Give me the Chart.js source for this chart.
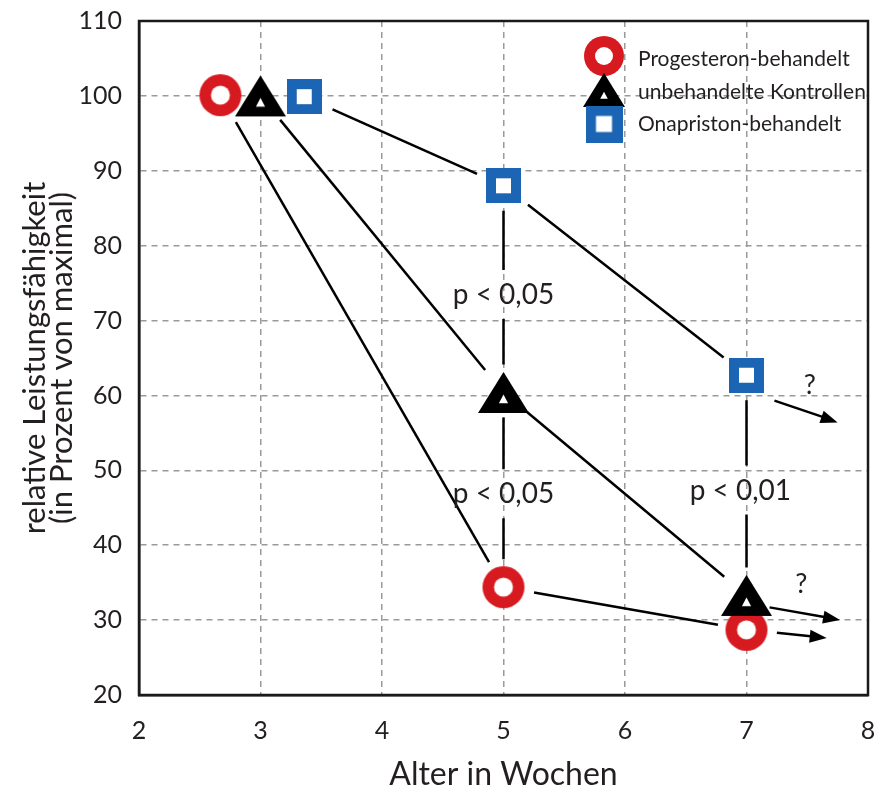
<!DOCTYPE html>
<html>
<head>
<meta charset="utf-8">
<script src="https://cdn.jsdelivr.net/npm/chart.js@4.4.1/dist/chart.umd.min.js"></script>
<style>
  html, body { margin: 0; padding: 0; background: #fff; }
  #wrap { width: 882px; height: 792px; }
</style>
</head>
<body>
<div id="wrap"><canvas id="leistungChart" width="882" height="792"></canvas></div>
<script>
// values (x = Alter in Wochen, y = % of maximum)
const seriesNames = ['Progesteron-behandelt', 'unbehandelte Kontrollen', 'Onapriston-behandelt'];
const progesteronX = [2.67, 5, 7];
const progesteronY = [100.1, 34.4, 28.7];
const kontrolleX = [3, 5, 7];
const kontrolleY = [100, 60.4, 33.3];
const onapristonX = [3.36, 5, 7];
const onapristonY = [99.9, 88, 62.7];

// projected trend after week 7 (same series order)
const trendFromX = [7.25, 7.19, 7.23];
const trendFromY = [28.3, 31.7, 59.3];
const trendToX = [7.66, 7.77, 7.75];
const trendToY = [27.6, 30, 56.4];
const trendMark = ['', '?', '?'];
const trendMarkX = [0, 7.45, 7.52];
const trendMarkY = [0, 34.8, 61.4];

// significance between groups
const pText = ['p < 0,05', 'p < 0,05', 'p < 0,01'];
const pX = [5, 5, 7];
const pUpper = [88, 60.4, 62.7];
const pLower = [60.4, 34.4, 33.3];
const pTextX = [5, 5, 6.95];
const pTextY = [73.4, 46.8, 47.3];

const xTicks = [2, 3, 4, 5, 6, 7, 8];
const yTicks = [20, 30, 40, 50, 60, 70, 80, 90, 100, 110];

const seriesX = [progesteronX, kontrolleX, onapristonX];
const seriesY = [progesteronY, kontrolleY, onapristonY];

const RED = '#d71920';
const BLUE = '#1c64b4';
const INK = '#231f20';
const FONT = 'Lato, "Open Sans", sans-serif';

// marker bitmaps used as point styles
function circleMarker(r, hole) {
  const c = document.createElement('canvas');
  c.width = c.height = Math.ceil(2 * r + 2);
  const g = c.getContext('2d');
  const m = c.width / 2;
  g.fillStyle = RED;
  g.beginPath(); g.arc(m, m, r, 0, Math.PI * 2); g.fill();
  g.fillStyle = '#fff';
  g.beginPath(); g.arc(m, m, hole, 0, Math.PI * 2); g.fill();
  return c;
}

function triangleMarker(w, h) {
  const c = document.createElement('canvas');
  c.width = w + 2; c.height = h + 2;
  const g = c.getContext('2d');
  const m = c.width / 2;
  g.fillStyle = '#000';
  g.beginPath(); g.moveTo(m, 1); g.lineTo(w + 1, h + 1); g.lineTo(1, h + 1); g.closePath(); g.fill();
  const hw = w * 0.09;
  g.fillStyle = '#fff';
  g.beginPath(); g.moveTo(m, 1 + h * 0.55); g.lineTo(m + hw, 1 + h * 0.76); g.lineTo(m - hw, 1 + h * 0.76); g.closePath(); g.fill();
  return c;
}

function squareMarker(s, hole) {
  const c = document.createElement('canvas');
  c.width = c.height = s;
  const g = c.getContext('2d');
  g.fillStyle = BLUE;
  g.fillRect(0, 0, s, s);
  g.fillStyle = '#fff';
  g.fillRect((s - hole) / 2, (s - hole) / 2, hole, hole);
  return c;
}

const markers = [circleMarker(21, 9.5), triangleMarker(51, 41), squareMarker(35, 15)];
const legendMarkers = [circleMarker(20, 9), triangleMarker(42, 34), squareMarker(37, 16)];

function gapLine(g, x1, y1, x2, y2, gapA, gapB) {
  const dx = x2 - x1, dy = y2 - y1;
  const len = Math.hypot(dx, dy);
  const ux = dx / len, uy = dy / len;
  g.beginPath();
  g.moveTo(x1 + ux * gapA, y1 + uy * gapA);
  g.lineTo(x2 - ux * gapB, y2 - uy * gapB);
  g.stroke();
}

function arrowLine(g, x1, y1, x2, y2) {
  const a = Math.atan2(y2 - y1, x2 - x1);
  const L = 17, W = 6.5;
  const bx = x2 - L * Math.cos(a), by = y2 - L * Math.sin(a);
  g.beginPath(); g.moveTo(x1, y1); g.lineTo(bx + 1, by); g.stroke();
  g.beginPath();
  g.moveTo(x2, y2);
  g.lineTo(bx - W * Math.sin(a), by + W * Math.cos(a));
  g.lineTo(bx + W * Math.sin(a), by - W * Math.cos(a));
  g.closePath();
  g.fill();
}

const figureExtras = {
  id: 'figureExtras',
  beforeDatasetsDraw(chart) {
    const g = chart.ctx;
    const { x, y } = chart.scales;
    const px = v => x.getPixelForValue(v);
    const py = v => y.getPixelForValue(v);
    const area = chart.chartArea;

    g.save();
    g.strokeStyle = '#000';
    g.fillStyle = '#000';
    g.lineWidth = 2.5;

    // lines between the weeks, stopping short of the markers
    seriesX.forEach((xs, i) => {
      for (let j = 0; j < xs.length - 1; j++) {
        gapLine(g, px(xs[j]), py(seriesY[i][j]), px(xs[j + 1]), py(seriesY[i][j + 1]), 31, 29);
      }
    });

    // vertical significance lines, broken for the p label
    pX.forEach((v, i) => {
      const xx = px(v), yt = py(pTextY[i]);
      g.beginPath();
      g.moveTo(xx, py(pUpper[i]) + 25); g.lineTo(xx, yt - 25);
      g.moveTo(xx, yt + 24); g.lineTo(xx, py(pLower[i]) - 28);
      g.stroke();
    });

    // trend arrows
    trendFromX.forEach((v, i) => {
      arrowLine(g, px(v), py(trendFromY[i]), px(trendToX[i]), py(trendToY[i]));
    });

    g.fillStyle = INK;
    g.textAlign = 'center';
    g.textBaseline = 'middle';
    g.font = `28px ${FONT}`;
    pText.forEach((t, i) => g.fillText(t, px(pTextX[i]), py(pTextY[i])));
    g.font = `27px ${FONT}`;
    trendMark.forEach((t, i) => { if (t) g.fillText(t, px(trendMarkX[i]), py(trendMarkY[i])); });

    // legend in the upper right corner
    const mx = area.right - 264, tx = area.right - 230;
    const rowY = [area.top + 35, area.top + 69, area.top + 103];
    const textY = [area.top + 38, area.top + 71, area.top + 103];
    legendMarkers.forEach((m, i) => g.drawImage(m, mx - m.width / 2, rowY[i] - m.height / 2));
    g.textAlign = 'left';
    g.font = `21px ${FONT}`;
    seriesNames.forEach((n, i) => g.fillText(n, tx, textY[i]));
    g.restore();
  },
  afterDraw(chart) {
    const g = chart.ctx;
    const a = chart.chartArea;
    g.save();
    g.strokeStyle = '#1a1a1a';
    g.lineWidth = 2.5;
    g.strokeRect(a.left, a.top, a.right - a.left, a.bottom - a.top);
    g.restore();
  }
};

const gridColor = edges => c => (edges.includes(c.tick.value) ? 'rgba(0,0,0,0)' : '#9a9a9a');

new Chart(document.getElementById('leistungChart').getContext('2d'), {
  type: 'scatter',
  data: {
    datasets: seriesNames.map((name, i) => ({
      label: name,
      data: seriesX[i].map((v, j) => ({ x: v, y: seriesY[i][j] })),
      pointStyle: markers[i],
      pointRadius: 20,
      pointHoverRadius: 20,
      showLine: false,
      order: [2, 0, 1][i],
    })),
  },
  options: {
    responsive: false,
    animation: false,
    events: [],
    layout: { autoPadding: false, padding: { top: 21, right: 14, bottom: 0, left: 0 } },
    plugins: {
      legend: { display: false },
      tooltip: { enabled: false },
    },
    scales: {
      x: {
        type: 'linear',
        min: 2,
        max: 8,
        afterBuildTicks: s => { s.ticks = xTicks.map(v => ({ value: v })); },
        afterFit: s => { s.height = 97; s.paddingLeft = 0; s.paddingRight = 0; },
        ticks: { color: INK, font: { family: FONT, size: 25 }, padding: 21 },
        grid: { color: gridColor([2, 8]), lineWidth: 1.5, drawTicks: false },
        border: { display: true, color: '#1a1a1a', width: 2.5, dash: [6, 5] },
        title: {
          display: true,
          text: 'Alter in Wochen',
          color: INK,
          font: { family: FONT, size: 32, lineHeight: 1 },
          padding: { top: 0, bottom: 1 },
        },
      },
      y: {
        min: 20,
        max: 110,
        afterBuildTicks: s => { s.ticks = yTicks.map(v => ({ value: v })); },
        afterFit: s => { s.width = 139; s.paddingTop = 0; s.paddingBottom = 0; },
        ticks: { color: INK, font: { family: FONT, size: 25 }, padding: 17 },
        grid: { color: gridColor([20, 110]), lineWidth: 1.5, drawTicks: false },
        border: { display: true, color: '#1a1a1a', width: 2.5, dash: [6, 5] },
        title: {
          display: true,
          text: ['relative Leistungsfähigkeit', '(in Prozent von maximal)'],
          color: INK,
          font: { family: FONT, size: 31, lineHeight: 0.85 },
          padding: { top: 22, bottom: 0 },
        },
      },
    },
  },
  plugins: [figureExtras],
});
</script>
</body>
</html>
